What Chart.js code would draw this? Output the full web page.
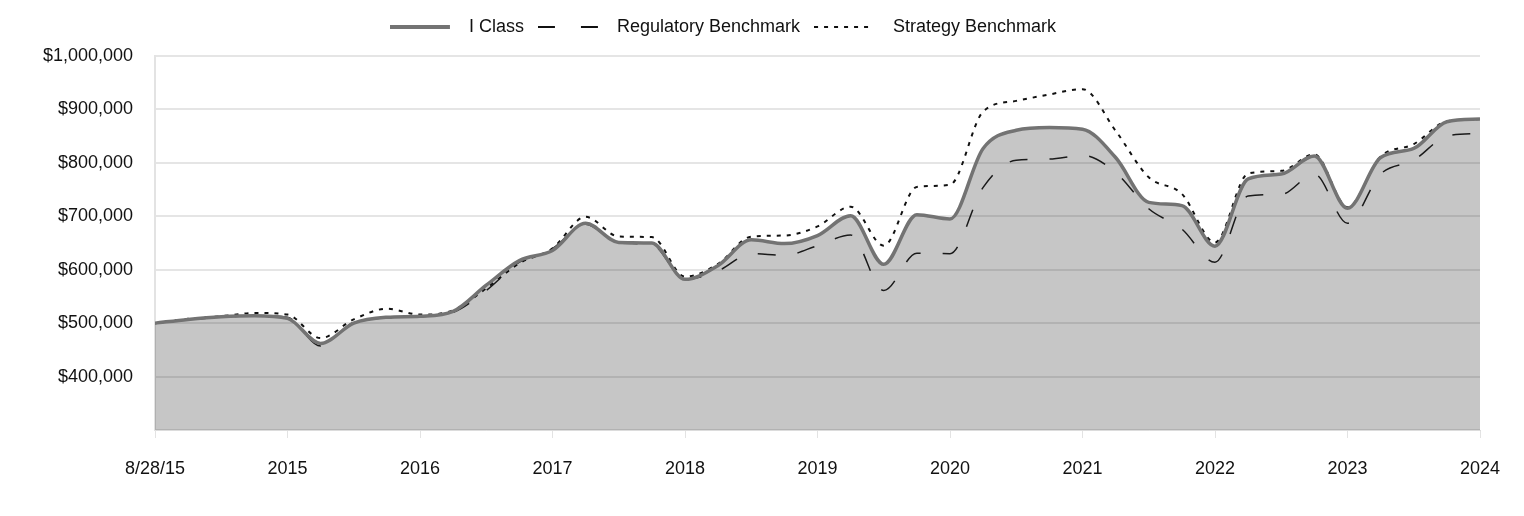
<!DOCTYPE html>
<html>
<head>
<meta charset="utf-8">
<script src="https://cdn.jsdelivr.net/npm/chart.js@4/dist/chart.umd.min.js"></script>
<style>
  html, body { margin: 0; padding: 0; background: #fff; }
  #wrap { width: 1524px; height: 516px; position: relative; }
</style>
</head>
<body>
<div id="wrap"><canvas id="c" width="1524" height="516"></canvas></div>
<script>
const xTickLabels = ['8/28/15', '2015', '2016', '2017', '2018', '2019', '2020', '2021', '2022', '2023', '2024'];
const seriesNames = ['I Class', 'Regulatory Benchmark', 'Strategy Benchmark'];
const iClass = [500000, 507000, 512000, 514000, 509000, 462000, 500000, 511000, 513000, 522000,
  571000, 617000, 636000, 687000, 651000, 650000, 582000, 608000, 656000, 649000,
  664000, 701000, 610000, 703000, 695000, 827000, 861000, 866000, 863000, 810000,
  726000, 720000, 644000, 770000, 779000, 813000, 715000, 810000, 827000, 877000, 882000];
const regulatory = [500000, 506000, 511000, 514000, 511000, 457000, 502000, 510000, 512000, 520000,
  561000, 614000, 640000, 685000, 650000, 647000, 582000, 598000, 630000, 627000,
  645000, 665000, 561000, 631000, 630000, 754000, 805000, 807000, 814000, 782000,
  714000, 676000, 614000, 738000, 741000, 779000, 687000, 779000, 805000, 850000, 855000];
const strategy = [500000, 508000, 513000, 519000, 516000, 472000, 507000, 527000, 516000, 524000,
  565000, 612000, 640000, 699000, 662000, 661000, 587000, 611000, 662000, 664000,
  681000, 718000, 645000, 755000, 759000, 896000, 916000, 928000, 938000, 860000,
  773000, 742000, 651000, 780000, 785000, 816000, 717000, 812000, 835000, 878000, 882000];

const FONT = "'Liberation Sans', Arial, sans-serif";
const toXY = arr => arr.map((v, i) => ({ x: i, y: v }));

function legendSymbol(kind) {
  const c = document.createElement('canvas');
  c.width = 70; c.height = 10;
  const g = c.getContext('2d');
  g.beginPath();
  if (kind === 'solid') { g.strokeStyle = '#737373'; g.lineWidth = 4; g.setLineDash([]); }
  else if (kind === 'dash') { g.strokeStyle = '#111'; g.lineWidth = 2; g.setLineDash([17, 26]); }
  else { g.strokeStyle = '#111'; g.lineWidth = 2; g.setLineDash([4, 6]); }
  g.moveTo(0, 5); g.lineTo(60, 5); g.stroke();
  return c;
}
const legendSyms = [legendSymbol('solid'), legendSymbol('dash'), legendSymbol('dot')];

const legendTweak = {
  id: 'legendTweak',
  beforeLayout(chart) {
    const lg = chart.legend;
    if (lg && !lg._patched) {
      const f = lg.fit.bind(lg);
      lg.fit = function () { f(); this.height += 10; };
      lg._patched = true;
    }
  },
  afterLayout(chart) {
    const lg = chart.legend;
    if (lg) { lg.left -= 17; lg.right -= 17; }
  }
};

new Chart(document.getElementById('c'), {
  type: 'line',
  plugins: [legendTweak],
  data: {
    datasets: [
      { label: seriesNames[0], data: toXY(iClass), borderColor: '#737373', borderWidth: 3.5,
        backgroundColor: 'rgba(0,0,0,0.224)', fill: 'start', pointRadius: 0, cubicInterpolationMode: 'monotone' },
      { label: seriesNames[1], data: toXY(regulatory), borderColor: '#1a1a1a', borderWidth: 1.5,
        borderDash: [18, 22], fill: false, pointRadius: 0, cubicInterpolationMode: 'monotone' },
      { label: seriesNames[2], data: toXY(strategy), borderColor: '#111', borderWidth: 2,
        borderDash: [4, 6], fill: false, pointRadius: 0, cubicInterpolationMode: 'monotone' }
    ]
  },
  options: {
    responsive: false,
    animation: false,
    layout: { padding: { left: 0, right: 44, top: 4, bottom: 0 } },
    plugins: {
      filler: { drawTime: 'beforeDatasetsDraw' },
      tooltip: { enabled: false },
      legend: {
        display: true,
        position: 'top',
        labels: {
          usePointStyle: true,
          pointStyleWidth: 70,
          boxHeight: 10,
          padding: 14,
          color: '#111',
          font: { family: FONT, size: 18 },
          generateLabels: (chart) => chart.data.datasets.map((ds, i) => ({
            text: ds.label, pointStyle: legendSyms[i], datasetIndex: i,
            fillStyle: 'transparent', strokeStyle: 'transparent', lineWidth: 0, fontColor: '#111'
          }))
        }
      }
    },
    scales: {
      x: {
        type: 'linear', min: 0, max: 40,
        afterFit: s => { s.height = 86; },
        afterBuildTicks: s => { s.ticks = xTickLabels.map((_, i) => ({ value: i * 4 })); },
        ticks: { autoSkip: false, maxRotation: 0, padding: 20, color: '#111',
          font: { family: FONT, size: 18 },
          callback: v => xTickLabels[Math.round(v / 4)] },
        grid: { drawOnChartArea: false, drawTicks: true, tickLength: 8, color: '#e3e3e3' },
        border: { display: true, color: '#dcdcdc', width: 1 }
      },
      y: {
        min: 300000, max: 1000000,
        afterFit: s => { s.width = 155; },
        ticks: { stepSize: 100000, padding: 22, color: '#111',
          font: { family: FONT, size: 18 },
          callback: v => v === 300000 ? '' : '$' + v.toLocaleString('en-US') },
        grid: { color: 'rgba(0,0,0,0.1)', drawTicks: false, lineWidth: 2 },
        border: { display: true, color: '#e3e3e3', width: 2 }
      }
    }
  }
});
</script>
</body>
</html>
